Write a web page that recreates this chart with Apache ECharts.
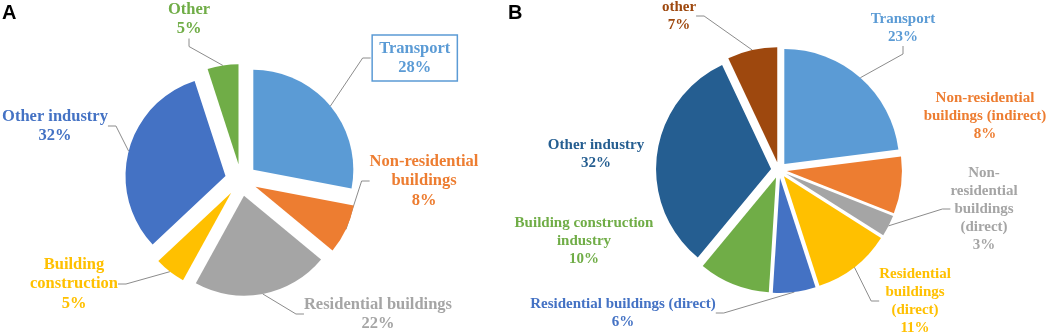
<!DOCTYPE html>
<html>
<head>
<meta charset="utf-8">
<script src="https://cdn.jsdelivr.net/npm/echarts@6/dist/echarts.min.js"></script>
<style>
  html, body { margin: 0; padding: 0; background: #fff; }
  #chart { width: 1052px; height: 334px; }
</style>
</head>
<body>
<div id="chart"></div>
<script>
// panel A
const categoriesA = ['Transport', 'Non-residential\nbuildings', 'Residential buildings', 'Building\nconstruction', 'Other industry', 'Other']
const valuesA = [28, 8, 22, 5, 32, 5]
const colorsA = ['#5B9BD5', '#ED7D31', '#A5A5A5', '#FFC000', '#4472C4', '#70AD47']

// panel B
const categoriesB = ['Transport', 'Non-residential\nbuildings (indirect)', 'Non-\nresidential\nbuildings\n(direct)', 'Residential\nbuildings\n(direct)', 'Residential buildings (direct)', 'Building construction\nindustry', 'Other industry', 'other']
const valuesB = [23, 8, 3, 11, 6, 10, 32, 7]
const colorsB = ['#5B9BD5', '#ED7D31', '#A5A5A5', '#FFC000', '#4472C4', '#70AD47', '#255E91', '#9E480E']

// where each data label sits (centre of the text block)
const labelPosA = [[414, 58], [424, 181], [378, 314], [74, 284], [55, 126], [189, 19]]
const labelPosB = [[903, 28], [985, 116], [984, 209], [915, 301], [623, 313], [584, 241], [596, 154], [679, 16]]
const noLineB = [1, 5, 6]

const fontA = { fontFamily: 'Liberation Serif', fontWeight: 'bold', fontSize: 16.5, lineHeight: 19.5 }
const fontB = { fontFamily: 'Liberation Serif', fontWeight: 'bold', fontSize: 15, lineHeight: 18 }

const makeData = (names, values, colors, noLine) => names.map((name, i) => ({
  name,
  value: values[i],
  selected: true,
  itemStyle: { color: colors[i] },
  label: { color: colors[i] },
  labelLine: { show: !(noLine || []).includes(i) }
}))

const dataA = makeData(categoriesA, valuesA, colorsA)
dataA[0].label = {
  color: colorsA[0],
  borderColor: colorsA[0],
  borderWidth: 1.5,
  padding: [4, 7, 3, 7]
}

const dataB = makeData(categoriesB, valuesB, colorsB, noLineB)

// shift of an exploded slice, so the label can be placed where it sits in the figure
const sliceShift = (values, index, offset) => {
  const total = values.reduce((a, b) => a + b, 0)
  const before = values.slice(0, index).reduce((a, b) => a + b, 0)
  const mid = (before + values[index] / 2) / total * Math.PI * 2
  return [offset * Math.sin(mid), -offset * Math.cos(mid)]
}

const pieSeries = (data, values, center, radius, offset, positions, font) => ({
  type: 'pie',
  center,
  radius,
  startAngle: 90,
  clockwise: true,
  selectedMode: 'multiple',
  selectedOffset: offset,
  animation: false,
  emphasis: { disabled: true },
  itemStyle: { borderWidth: 0 },
  label: {
    show: true,
    formatter: '{b}\n{c}%',
    overflow: 'none',
    ...font
  },
  labelLine: {
    show: true,
    length: 10,
    length2: 8,
    lineStyle: { color: '#8c8c8c', width: 1 }
  },
  labelLayout: (params) => {
    const p = positions[params.dataIndex]
    const s = sliceShift(values, params.dataIndex, offset)
    const r = params.labelRect
    const ax = params.align === 'right' ? r.x + r.width : params.align === 'center' ? r.x + r.width / 2 : r.x
    const ay = r.y + r.height / 2
    return {
      x: ax,
      y: ay,
      dx: p[0] - ax - s[0],
      dy: p[1] - ay - s[1],
      align: 'center',
      verticalAlign: 'middle'
    }
  },
  data
})

const titleStyle = { fontFamily: 'Liberation Sans', fontWeight: 'bold', fontSize: 20, color: '#000' }

const chart = echarts.init(document.getElementById('chart'))
chart.setOption({
  backgroundColor: '#fff',
  title: [
    { text: 'A', left: 2, top: 3, padding: 0, textStyle: titleStyle },
    { text: 'B', left: 508, top: 3, padding: 0, textStyle: titleStyle }
  ],
  series: [
    pieSeries(dataA, valuesA, [241, 180], 100, 16, labelPosA, fontA),
    pieSeries(dataB, valuesB, [779, 170], 115, 8, labelPosB, fontB)
  ]
})
</script>
</body>
</html>
